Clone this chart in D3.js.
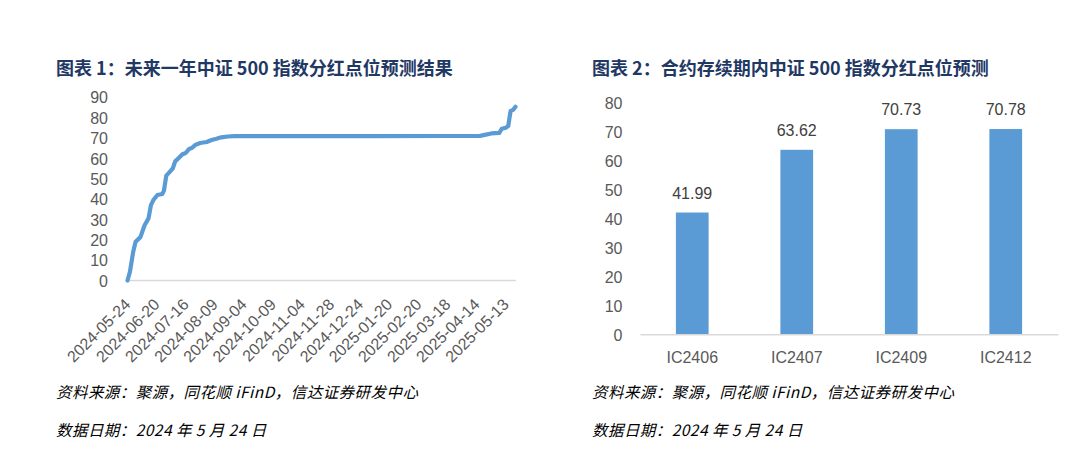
<!DOCTYPE html>
<html>
<head>
<meta charset="utf-8">
<script src="https://cdn.jsdelivr.net/npm/d3@7/dist/d3.min.js"></script>
<style>
  html, body { margin: 0; padding: 0; background: #fff; }
  svg { display: block; }
</style>
</head>
<body>
<svg id="chart" width="1080" height="473"></svg>
<script>
// ---------- Chart 1 data (trading-day index since 2024-05-24, predicted dividend points) ----------
const lineDayIndex = [0, 1.5, 3.5, 5, 8, 10.5, 13, 14.5, 16, 18.5, 21.5, 22.5, 24, 26, 28, 29.5, 31.5, 34, 36, 38, 40, 42, 45, 49, 52, 55, 58, 62, 66, 100, 150, 200, 218, 221, 225, 230, 231.5, 234, 235.5, 236.3, 237, 238.5, 240];
const lineValues   = [0, 4.2, 14, 19, 21.3, 27, 30.5, 37, 39.5, 42, 42.5, 44, 51.5, 53.2, 55, 58.5, 60, 62, 62.6, 64.5, 65.2, 66.6, 67.5, 68, 69, 69.6, 70.3, 70.7, 70.9, 70.9, 70.9, 70.95, 71.0, 71.5, 72.2, 72.5, 74.5, 75, 75.8, 80, 83.3, 83.8, 85.3];
const lineTickIndex  = [0, 18, 36, 54, 72, 90, 108, 126, 144, 162, 180, 198, 216, 234];
const lineTickLabels = ["2024-05-24","2024-06-20","2024-07-16","2024-08-09","2024-09-04","2024-10-09","2024-11-04","2024-11-28","2024-12-24","2025-01-20","2025-02-20","2025-03-18","2025-04-14","2025-05-13"];
const lineYTicks = [0, 10, 20, 30, 40, 50, 60, 70, 80, 90];

// ---------- Chart 2 data ----------
const barCategories = ["IC2406", "IC2407", "IC2409", "IC2412"];
const barValues     = [41.99, 63.62, 70.73, 70.78];
const barYTicks     = [0, 10, 20, 30, 40, 50, 60, 70, 80];

// ---------- Texts ----------
const title1 = "图表 1：未来一年中证 500 指数分红点位预测结果";
const title2 = "图表 2：合约存续期内中证 500 指数分红点位预测";
const sourceText = "资料来源：聚源，同花顺 iFinD，信达证券研发中心";
const dateText = "数据日期：2024 年 5 月 24 日";

const BLUE = "#5B9BD5";
const AXIS = "#D9D9D9";
const LABEL = "#595959";
const TITLE = "#1F3864";
const CJK = "'Noto Sans CJK SC', 'Noto Sans', sans-serif";
const LAT = "'Liberation Sans', Arial, sans-serif";

const svg = d3.select("#chart");

// Titles
svg.append("text").attr("x", 56).attr("y", 75).text(title1)
  .attr("font-family", CJK).attr("font-weight", "bold").attr("font-size", 18).attr("fill", TITLE);
svg.append("text").attr("x", 592).attr("y", 75).text(title2)
  .attr("font-family", CJK).attr("font-weight", "bold").attr("font-size", 18).attr("fill", TITLE);

// Source lines
[[56, 398, sourceText], [56, 436, dateText], [592, 398, sourceText], [592, 436, dateText]].forEach(([x, y, t]) => {
  svg.append("text").attr("x", x).attr("y", y).text(t)
    .attr("font-family", CJK).attr("font-style", "italic").attr("font-size", 15.5).attr("fill", "#000")
    .attr("letter-spacing", 0.45);
});

// ---------- Chart 1: line ----------
const x1 = d3.scaleLinear().domain([0, 240]).range([127.5, 515.5]);
const y1 = d3.scaleLinear().domain([0, 90]).range([280.5, 97.2]);
const g1 = svg.append("g");

// x axis line
const xAxis1 = d3.axisBottom(x1).tickValues([]).tickSize(0).tickSizeOuter(0);
const xa1 = g1.append("g").attr("transform", `translate(0,${y1(0)})`).call(xAxis1);
xa1.select(".domain").attr("d", `M${x1.range()[0]},0H${x1.range()[1] + 0.5}`).attr("stroke", AXIS).attr("stroke-width", 1.5);

// x labels, rotated
g1.selectAll(".xl").data(lineTickIndex).enter().append("text")
  .attr("class", "xl")
  .attr("transform", (d) => `translate(${x1(d) + 4},${y1(0) + 25}) rotate(-45)`)
  .attr("text-anchor", "end")
  .attr("font-family", LAT).attr("font-size", 16).attr("fill", LABEL)
  .text((d, i) => lineTickLabels[i]);

// y labels
const yAxis1 = d3.axisLeft(y1).tickValues(lineYTicks).tickSize(0).tickPadding(0);
const ya1 = g1.append("g").attr("transform", "translate(108,0)").call(yAxis1);
ya1.select(".domain").remove();
ya1.selectAll("text").attr("font-family", LAT).attr("font-size", 16).attr("fill", LABEL).attr("dy", "0.36em");

// line
const line = d3.line().x((d, i) => x1(lineDayIndex[i])).y((d) => y1(d)).curve(d3.curveLinear);
g1.append("path").datum(lineValues).attr("d", line)
  .attr("fill", "none").attr("stroke", BLUE).attr("stroke-width", 4.2)
  .attr("stroke-linejoin", "round").attr("stroke-linecap", "round");

// ---------- Chart 2: bars ----------
const x2 = d3.scaleBand().domain(barCategories).range([640, 1058]).paddingInner(0.687).paddingOuter(0.3435);
const y2 = d3.scaleLinear().domain([0, 80]).range([334.3, 102.3]);
const g2 = svg.append("g");

const yAxis2 = d3.axisLeft(y2).tickValues(barYTicks).tickSize(0).tickPadding(0);
const ya2 = g2.append("g").attr("transform", "translate(622.5,0)").call(yAxis2);
ya2.select(".domain").remove();
ya2.selectAll("text").attr("font-family", LAT).attr("font-size", 16).attr("fill", LABEL).attr("dy", "0.36em");

g2.selectAll(".bar").data(barValues).enter().append("rect")
  .attr("class", "bar")
  .attr("x", (d, i) => x2(barCategories[i]))
  .attr("width", x2.bandwidth())
  .attr("y", (d) => y2(d))
  .attr("height", (d) => y2(0) - y2(d))
  .attr("fill", BLUE);

const xAxis2 = d3.axisBottom(x2).tickSize(0).tickSizeOuter(0).tickPadding(0);
const xa2 = g2.append("g").attr("transform", `translate(0,${y2(0)})`).call(xAxis2);
xa2.select(".domain").attr("stroke", AXIS).attr("stroke-width", 1.5);
xa2.selectAll("text").attr("font-family", LAT).attr("font-size", 16).attr("fill", LABEL).attr("dy", "1.8em");

g2.selectAll(".vl").data(barValues).enter().append("text")
  .attr("class", "vl")
  .attr("x", (d, i) => x2(barCategories[i]) + x2.bandwidth() / 2)
  .attr("y", (d) => y2(d) - 14)
  .attr("text-anchor", "middle")
  .attr("font-family", LAT).attr("font-size", 16).attr("fill", "#404040")
  .text((d) => d.toFixed(2));
</script>
</body>
</html>
